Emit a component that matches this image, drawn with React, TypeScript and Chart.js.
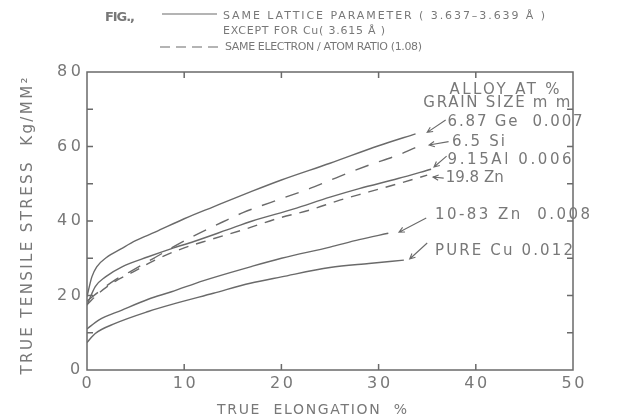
import { useEffect, useRef } from 'react';
import { Chart, registerables } from 'chart.js';

Chart.register(...registerables);

// ---- data (true elongation %, true tensile stress kg/mm²) ----
const geX = [0, 0.5, 1, 2, 3.5, 5, 7, 10, 13, 17, 20, 25, 30, 33.8];
const geY = [19.7, 25, 27.7, 30.2, 32.5, 34.7, 37, 40.6, 43.8, 48, 51, 55.5, 60.2, 63.4];

const siX = [0, 1.2, 2.9, 4.5, 7, 9.2, 11, 14, 16.1, 20, 23, 26, 29, 32, 34.3];
const siY = [18.5, 21, 24.2, 26.5, 30.2, 33.5, 36, 39.8, 42.3, 46, 48.8, 52, 55, 57.7, 60.3];

const alX = [0, 0.85, 1.9, 3.6, 6.3, 8.7, 11, 14.4, 17, 21.2, 25, 28, 32, 35.4];
const alY = [17.4, 22.4, 25, 27.7, 30.4, 32.6, 34.5, 37.6, 40, 43.2, 46.4, 48.7, 51.4, 53.9];

const zn198X = [0, 1.2, 2.9, 4.5, 7, 9.6, 12.7, 16.5, 19.5, 23, 26, 29, 32, 35];
const zn198Y = [17.5, 20.6, 23.8, 26, 29.5, 32.4, 35, 38, 40.6, 43, 45.6, 47.8, 50, 52.3];

const zn1083X = [0, 1.2, 3.6, 6.3, 8.7, 12, 16.8, 20, 25, 28, 31];
const zn1083Y = [11, 13.4, 16.1, 19, 21, 24, 27.7, 30, 33, 35, 36.7];

const cuX = [0, 0.85, 2.9, 6.3, 9, 13, 16.8, 20, 25, 29, 32.6];
const cuY = [7.4, 9.8, 12.5, 15.7, 17.8, 20.6, 23.3, 25, 27.5, 28.6, 29.5];

const xTicks = [0, 10, 20, 30, 40, 50];
const yTicks = [0, 10, 20, 30, 40, 50, 60, 70, 80];
const yLabelled = [0, 20, 40, 60, 80];

// curve labels (anchored in data coordinates)
const labelTexts = ['ALLOY AT %', 'GRAIN SIZE m m', '6.87 Ge  0.007', '6.5 Si', '9.15Al 0.006', '19.8 Zn', '10-83 Zn  0.008', 'PURE Cu 0.012'];
const labelX = [37.3, 34.6, 37.1, 37.55, 37.1, 36.9, 35.8, 35.8];
const labelY = [75.2, 71.7, 66.5, 61.1, 56.4, 51.5, 41.6, 31.9];
const labelW = [110, 147, 135, 53, 124, 58, 155, 138];

// arrows: from label toward curve end
const arrowFromX = [36.9, 37.2, 37.0, 36.7, 34.9, 35.0];
const arrowFromY = [67.1, 61.3, 57.4, 51.5, 40.8, 34.1];
const arrowToX = [35.0, 35.2, 35.7, 35.6, 32.1, 33.2];
const arrowToY = [63.8, 60.4, 54.5, 51.8, 37.0, 29.8];

const LINE = '#6a6a6a';
const TEXT = '#787878';
const FAMILY = '"DejaVu Sans"';

const pts = (xs: number[], ys: number[]) => xs.map((x, i) => ({ x, y: ys[i] }));

function spaced(ctx: CanvasRenderingContext2D, text: string, x: number, y: number, size: number, width: number, align: 'left' | 'center' | 'right', weight = 'normal') {
  ctx.font = `${weight} ${size}px ${FAMILY}`;
  (ctx as any).letterSpacing = '0px';
  const w0 = ctx.measureText(text).width;
  const n = Array.from(text).length;
  const sp = n > 1 ? (width - w0) / (n - 1) : 0;
  (ctx as any).letterSpacing = `${sp}px`;
  ctx.textBaseline = 'middle';
  ctx.textAlign = 'left';
  let start = x;
  if (align === 'center') start = x - width / 2;
  if (align === 'right') start = x - width;
  ctx.fillText(text, start, y);
  (ctx as any).letterSpacing = '0px';
}

function arrow(ctx: CanvasRenderingContext2D, x1: number, y1: number, x2: number, y2: number) {
  const ang = Math.atan2(y2 - y1, x2 - x1);
  const L = 6;
  ctx.beginPath();
  ctx.moveTo(x1, y1);
  ctx.lineTo(x2, y2);
  ctx.moveTo(x2 - L * Math.cos(ang - 0.45), y2 - L * Math.sin(ang - 0.45));
  ctx.lineTo(x2, y2);
  ctx.lineTo(x2 - L * Math.cos(ang + 0.45), y2 - L * Math.sin(ang + 0.45));
  ctx.stroke();
}

const decor = {
  id: 'decor',
  afterDraw(chart: any) {
    const { ctx, chartArea: a, scales } = chart;
    const xs = scales.x;
    const ys = scales.y;
    ctx.save();
    ctx.strokeStyle = LINE;
    ctx.lineWidth = 1.5;
    ctx.strokeRect(a.left, a.top, a.right - a.left, a.bottom - a.top);
    ctx.beginPath();
    yTicks.forEach((v) => {
      if (v === yTicks[0] || v === yTicks[yTicks.length - 1]) return;
      const py = ys.getPixelForValue(v);
      ctx.moveTo(a.left, py); ctx.lineTo(a.left + 6, py);
      ctx.moveTo(a.right, py); ctx.lineTo(a.right - 6, py);
    });
    xTicks.forEach((v) => {
      if (v === xTicks[0] || v === xTicks[xTicks.length - 1]) return;
      const px = xs.getPixelForValue(v);
      ctx.moveTo(px, a.bottom); ctx.lineTo(px, a.bottom - 6);
      ctx.moveTo(px, a.top); ctx.lineTo(px, a.top + 6);
    });
    ctx.stroke();

    // arrows
    ctx.lineWidth = 1.1;
    arrowFromX.forEach((fx, i) => {
      arrow(ctx, xs.getPixelForValue(fx), ys.getPixelForValue(arrowFromY[i]), xs.getPixelForValue(arrowToX[i]), ys.getPixelForValue(arrowToY[i]));
    });

    ctx.fillStyle = TEXT;
    // tick labels
    xTicks.forEach((v) => {
      const s = String(v);
      spaced(ctx, s, xs.getPixelForValue(v), a.bottom + 14, 16, s.length > 1 ? 23 : 11, 'center');
    });
    yLabelled.forEach((v) => {
      const s = String(v);
      spaced(ctx, s, a.left - 6, ys.getPixelForValue(v), 16, s.length > 1 ? 24 : 11, 'right');
    });

    // curve labels
    labelTexts.forEach((t, i) => {
      spaced(ctx, t, xs.getPixelForValue(labelX[i]), ys.getPixelForValue(labelY[i]), 15, labelW[i], 'left');
    });

    // axis titles
    spaced(ctx, 'TRUE  ELONGATION  %', 312, 410, 14, 190, 'center');
    ctx.save();
    ctx.translate(28, 226);
    ctx.rotate(-Math.PI / 2);
    spaced(ctx, 'TRUE TENSILE STRESS  Kg/MM²', 0, 0, 15, 297, 'center');
    ctx.restore();

    // header legend
    spaced(ctx, 'FIG.,', 105, 18, 13, 30, 'left', 'bold');
    spaced(ctx, 'SAME LATTICE PARAMETER ( 3.637–3.639 Å )', 223, 16.5, 11, 322, 'left');
    spaced(ctx, 'EXCEPT FOR Cu( 3.615 Å )', 223, 31, 11, 162, 'left');
    spaced(ctx, 'SAME ELECTRON / ATOM RATIO (1.08)', 225, 47, 11, 197, 'left');
    ctx.lineWidth = 1.2;
    ctx.beginPath();
    ctx.moveTo(162, 14); ctx.lineTo(217, 14);
    ctx.stroke();
    ctx.setLineDash([10, 6]);
    ctx.beginPath();
    ctx.moveTo(160, 47); ctx.lineTo(218, 47);
    ctx.stroke();
    ctx.restore();
  },
};

export default function App() {
  const ref = useRef<HTMLCanvasElement | null>(null);
  useEffect(() => {
    if (!ref.current) return;
    const common = {
      borderColor: LINE,
      borderWidth: 1.4,
      pointRadius: 0,
      fill: false,
      cubicInterpolationMode: 'monotone' as const,
    };
    const chart = new Chart(ref.current, {
      type: 'line',
      data: {
        datasets: [
          { ...common, label: '6.87 Ge', data: pts(geX, geY) },
          { ...common, label: '6.5 Si', data: pts(siX, siY), borderDash: [14, 11] },
          { ...common, label: '9.15 Al', data: pts(alX, alY) },
          { ...common, label: '19.8 Zn', data: pts(zn198X, zn198Y), borderDash: [10, 8] },
          { ...common, label: '10.83 Zn', data: pts(zn1083X, zn1083Y) },
          { ...common, label: 'Pure Cu', data: pts(cuX, cuY) },
        ],
      },
      options: {
        animation: false,
        responsive: false,
        devicePixelRatio: 1,
        layout: { padding: { left: 0, top: 72, right: 46, bottom: 17 } },
        plugins: { legend: { display: false }, tooltip: { enabled: false } },
        scales: {
          x: {
            type: 'linear',
            min: 0,
            max: 50,
            ticks: { display: false, stepSize: 10 },
            grid: { display: false, drawTicks: false },
            border: { display: false },
            afterFit: (s: any) => { s.height = 30; s.paddingLeft = 0; s.paddingRight = 0; s.paddingTop = 0; s.paddingBottom = 0; },
          },
          y: {
            type: 'linear',
            min: 0,
            max: 80,
            ticks: { display: false, stepSize: 10 },
            grid: { display: false, drawTicks: false },
            border: { display: false },
            afterFit: (s: any) => { s.width = 87; s.paddingLeft = 0; s.paddingRight = 0; s.paddingTop = 0; s.paddingBottom = 0; },
          },
        },
      },
      plugins: [decor],
    });
    return () => chart.destroy();
  }, []);
  return (
    <div style={{ position: 'absolute', left: 0, top: 0, width: 619, height: 417, background: '#fff' }}>
      <canvas ref={ref} width={619} height={417} style={{ display: 'block' }} />
    </div>
  );
}
